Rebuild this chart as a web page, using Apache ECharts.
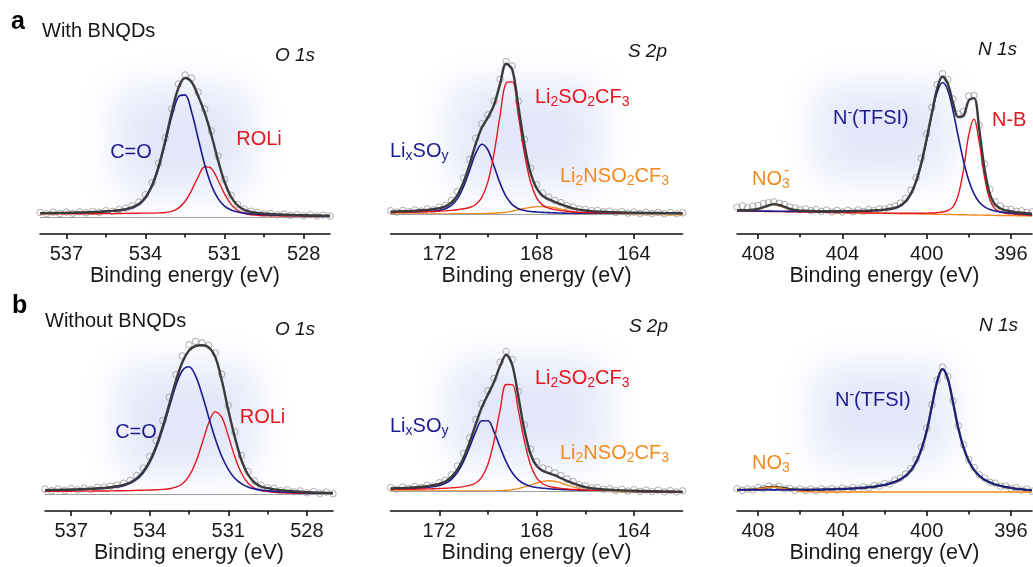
<!DOCTYPE html>
<html><head><meta charset="utf-8">
<script src="https://cdn.jsdelivr.net/npm/echarts@6/dist/echarts.min.js"></script>
<style>html,body{margin:0;padding:0;background:#fff}#c{width:1033px;height:567px}</style>
</head><body><div id="c"></div>
<script>
// ---------- binding-energy grids (eV) ----------
const O_E = [538,537.75,537.5,537.25,537,536.75,536.5,536.25,536,535.75,535.5,535.25,535,534.75,534.5,534.25,534,533.75,533.5,533.25,533,532.75,532.5,532.25,532,531.75,531.5,531.25,531,530.75,530.5,530.25,530,529.75,529.5,529.25,529,528.75,528.5,528.25,528,527.75,527.5,527.25,527];
const S_E = [174,173.75,173.5,173.25,173,172.75,172.5,172.25,172,171.75,171.5,171.25,171,170.75,170.5,170.25,170,169.75,169.5,169.25,169,168.75,168.5,168.25,168,167.75,167.5,167.25,167,166.75,166.5,166.25,166,165.75,165.5,165.25,165,164.75,164.5,164.25,164,163.75,163.5,163.25,163,162.75,162.5,162.25,162];
const N_E = [409,408.75,408.5,408.25,408,407.75,407.5,407.25,407,406.75,406.5,406.25,406,405.75,405.5,405.25,405,404.75,404.5,404.25,404,403.75,403.5,403.25,403,402.75,402.5,402.25,402,401.75,401.5,401.25,401,400.75,400.5,400.25,400,399.75,399.5,399.25,399,398.75,398.5,398.25,398,397.75,397.5,397.25,397,396.75,396.5,396.25,396,395.75,395.5,395.25,395];

// ---------- tick labels ----------
const O_ticks = [528,531,534,537], O_minor = [529.5,532.5,535.5];
const S_ticks = [164,168,172],     S_minor = [166,170];
const N_ticks = [396,400,404,408], N_minor = [398,402,406];

// ---------- (a) With BNQDs : O 1s ----------
const aO_raw  = [4.6,3.3,4.8,3.6,4.9,3.8,5.1,4.2,5.6,4.7,6.3,5.6,7.5,8.8,11.2,15.0,22.3,34.1,53.9,79.2,108,133,142,139,125,108,86,61,37.5,21.8,12.6,7.9,5.8,4.6,3.1,3.6,2.2,3.0,1.6,2.5,1.3,2.2,1.0,1.9,0.9];
const aO_env  = [3.9,3.9,4.0,4.1,4.2,4.4,4.5,4.7,5.0,5.3,5.7,6.1,6.8,7.9,9.7,13.1,19.6,31.6,50.6,76.1,105,129,139,135,121,104,82,57,35,20,11.5,7.2,5.1,4.1,3.5,3.0,2.6,2.3,2.1,1.9,1.8,1.6,1.5,1.4,1.3];
const aO_blue = [3.7,3.8,3.8,3.9,4.0,4.2,4.3,4.5,4.7,5.0,5.3,5.7,6.3,7.3,9.0,12.3,18.7,30.5,49.1,74.0,100.8,120.2,122.1,105.1,78.5,52.3,31.9,18.6,10.9,7.1,5.0,3.9,3.2,2.7,2.4,2.1,1.9,1.7,1.6,1.5,1.4,1.3,1.2,1.1,1.1];
const aO_red  = [3.2,3.2,3.2,3.2,3.2,3.2,3.2,3.3,3.3,3.3,3.4,3.4,3.5,3.6,3.7,3.8,3.9,3.9,4.1,4.5,5.7,8.9,15.5,26.6,40.2,50.2,48.6,37.0,23.1,12.6,6.5,3.5,2.3,1.8,1.5,1.3,1.1,1.0,0.9,0.9,0.8,0.8,0.7,0.7,0.7];

// ---------- (a) S 2p ----------
const aS_raw    = [3.3,1.9,3.6,2.4,4.1,3.0,5.0,4.1,6.8,8.9,13.6,22.4,36.1,54.6,75.8,90.3,99.1,112.8,134.7,152.5,148.0,112.9,74.6,45.8,29.3,20.9,16.8,13.5,11.4,8.3,7.1,5.0,4.6,3.4,3.6,2.4,2.9,1.5,2.4,0.9,2.0,0.6,1.8,0.4,1.6,0.3,1.4,0.2,1.1];
const aS_env    = [2.4,2.6,2.8,3.0,3.3,3.7,4.1,4.7,5.8,7.6,11.5,19.0,32.0,50.0,70.1,86.4,96.6,109.1,130.1,150.2,144.4,107.8,69.4,41.2,25.7,18.2,14.6,12.1,9.7,7.5,5.7,4.4,3.5,2.9,2.5,2.2,1.9,1.7,1.5,1.4,1.3,1.2,1.1,1.0,1.0,0.9,0.9,0.8,0.8];
const aS_blue   = [1.6,1.7,1.8,1.9,2.1,2.3,2.6,2.9,3.7,5.2,8.5,15.4,27.3,43.8,60.8,69.8,64.0,47.9,30.6,17.3,9.4,5.3,3.5,2.5,2.0,1.6,1.4,1.1,1.0,0.8,0.7,0.5,0.5,0.4,0.4,0.4,0.3,0.3,0.3,0.3,0.3,0.3,0.3,0.2,0.2,0.2,0.2,0.2,0.2];
const aS_red    = [1.6,1.7,1.8,1.9,2.0,2.2,2.3,2.5,2.8,3.1,3.6,4.2,5.2,6.5,9.5,16.6,32.4,60.6,98.5,131.1,132.1,98.3,60.4,32.0,16.2,8.9,5.9,4.4,3.4,2.7,2.2,1.8,1.5,1.3,1.2,1.0,0.9,0.8,0.7,0.6,0.6,0.5,0.5,0.4,0.4,0.4,0.4,0.3,0.3];
const aS_orange = [0.2,0.1,0.1,0.1,0.1,0.1,0.1,0.1,0.1,0.1,0.2,0.2,0.2,0.2,0.2,0.3,0.6,0.8,1.3,1.9,3.0,4.2,5.5,6.6,7.4,7.5,7.1,6.2,4.9,3.5,2.3,1.5,0.9,0.5,0.2,0,-0.3,-0.3,-0.4,-0.4,-0.5,-0.5,-0.6,-0.6,-0.6,-0.7,-0.7,-0.8,-0.8];

// ---------- (a) N 1s ----------
const aN_raw    = [5.8,7.1,5.2,6.9,7.6,9.4,10.3,11.1,9.8,8.5,5.9,5.1,3.2,4.1,2.4,3.5,1.6,2.9,1.1,2.6,0.9,2.8,1.2,3.1,1.5,3.4,2.3,4.0,3.8,5.6,7.0,9.8,14.5,22.6,35.3,54.8,79.1,105.6,128.4,139.2,133.5,114.0,99.1,101.6,116.9,117.4,87.6,49.1,23.5,11.2,6.8,3.9,3.5,1.7,2.2,0.6,1.1];
const aN_env    = [2.7,2.8,2.9,3.2,4.1,5.7,7.5,8.9,8.0,6.2,4.2,3.0,2.4,2.2,2.0,1.9,1.8,1.7,1.7,1.7,1.8,1.9,1.9,2.0,2.1,2.3,2.6,2.9,3.4,4.2,5.3,7.6,11.8,19.3,31.7,50.1,74.1,100.2,124.5,136.5,129.5,110.3,96.0,97.3,112.6,114.9,82.9,43.9,19.0,8.4,4.5,2.7,1.7,0.8,0.3,-0.3,-0.8];
const aN_blue   = [2.3,2.2,2.2,2.1,2.0,1.9,1.9,1.8,1.8,1.7,1.6,1.6,1.5,1.5,1.5,1.4,1.4,1.4,1.4,1.4,1.4,1.5,1.5,1.7,1.8,2.0,2.2,2.5,3.0,3.7,4.8,7.0,11.1,18.6,30.9,49.2,72.9,98.8,120.7,130.5,123.1,102.4,76.5,52.0,32.5,19.1,10.8,6.1,3.5,2.0,1.1,0.5,0,-0.5,-0.8,-1.2,-1.5];
const aN_red    = [2.1,2.0,1.9,1.8,1.7,1.6,1.5,1.5,1.4,1.3,1.2,1.1,1.0,0.9,0.9,0.8,0.7,0.6,0.5,0.4,0.4,0.3,0.2,0.1,0.1,0,-0.1,-0.1,-0.2,-0.2,-0.3,-0.3,-0.3,-0.3,-0.3,-0.3,-0.1,0,0.5,1.0,2.3,6.1,17.8,43.5,78.2,93.8,70.0,35.6,13.2,4.0,0.9,-0.3,-0.9,-1.4,-1.7,-2.0,-2.3];
const aN_orange = [2.4,2.4,2.5,2.8,3.6,5.3,7.1,8.4,7.5,5.6,3.6,2.3,1.7,1.4,1.2,1.0,0.9,0.7,0.6,0.5,0.4,0.3,0.2,0.1,0,-0.1,-0.2,-0.3,-0.4,-0.5,-0.6,-0.7,-0.8,-0.9,-0.9,-1.0,-1.1,-1.2,-1.3,-1.4,-1.5,-1.6,-1.7,-1.8,-1.9,-2.0,-2.1,-2.2,-2.3,-2.4,-2.5,-2.5,-2.6,-2.7,-2.8,-2.9,-3.0];

// ---------- (b) Without BNQDs : O 1s ----------
const bO_raw  = [4.9,3.4,5.0,3.6,5.3,4.1,5.9,4.6,6.6,6.9,7.9,9.0,10.8,13.6,18.4,26.0,37.5,53.2,73.4,96.8,119.5,138.1,149.3,152.6,151.2,148.5,141.0,119.8,88.6,62.0,38.5,22.6,13.1,8.9,6.2,5.6,3.4,4.1,2.2,3.1,1.2,2.4,0.6,1.9,0.3];
const bO_env  = [3.8,4.0,4.1,4.3,4.5,4.7,5.0,5.2,5.7,6.1,6.8,7.7,9.1,11.5,15.6,22.4,32.9,47.9,67.6,90.2,113.2,132.0,143.5,148.0,148.7,146.9,137.2,114.0,84.0,57.0,34.0,19.5,11.5,7.5,5.8,4.6,3.8,3.2,2.7,2.3,1.9,1.5,1.3,1.1,0.9];
const bO_blue = [3.6,3.7,3.8,4.0,4.2,4.3,4.6,4.8,5.2,5.6,6.2,7.0,8.3,10.6,14.5,21.1,31.4,46.1,65.3,87.1,108.4,123.5,127.3,118.1,99.4,77.1,55.6,37.8,24.7,15.8,10.3,7.0,5.1,3.9,3.2,2.6,2.2,1.8,1.6,1.3,1.1,0.8,0.7,0.5,0.4];
const bO_red  = [2.7,2.8,2.8,2.8,2.8,2.9,2.9,2.9,3.0,3.0,3.1,3.2,3.3,3.4,3.6,3.8,4.0,4.2,4.6,5.2,6.8,10.3,17.8,31.3,50.5,70.8,82.4,76.8,58.2,37.3,21.0,11.0,5.8,3.4,2.4,1.7,1.3,1.0,0.7,0.5,0.3,0.1,0,-0.1,-0.2];

// ---------- (b) S 2p ----------
const bS_raw    = [3.4,1.9,3.8,2.6,4.5,3.4,5.9,5.0,8.3,10.8,16.2,24.9,37.6,53.2,71.5,87.3,100.2,112.6,128.8,139.4,131.5,99.3,66.0,41.8,29.2,23.1,21.4,18.2,15.6,12.0,9.4,6.3,5.2,3.1,3.4,1.6,2.3,0.5,1.7,-0.1,1.2,-0.4,1.0,-0.6,0.8,-0.8,0.4,-0.9,0.2];
const bS_env    = [2.6,2.8,3.0,3.3,3.7,4.2,4.8,5.7,7.2,9.5,14.1,21.6,33.3,49.0,66.9,83.7,96.5,109.0,124.9,136.3,126.0,94.4,60.9,37.0,25.1,20.2,17.8,15.8,12.9,10.1,7.7,5.5,3.9,2.8,2.1,1.5,1.2,0.9,0.6,0.4,0.3,0.1,0,-0.2,-0.3,-0.4,-0.5,-0.6,-0.7];
const bS_blue   = [2.0,2.2,2.3,2.5,2.8,3.1,3.6,4.3,5.5,7.6,11.7,18.7,29.6,44.1,59.4,70.3,70.2,59.2,43.8,29.2,18.2,11.1,7.0,4.8,3.5,2.8,2.2,1.9,1.5,1.2,1.1,0.8,0.6,0.4,0.3,0.1,0,-0.1,-0.3,-0.4,-0.5,-0.6,-0.6,-0.7,-0.8,-0.9,-0.9,-1.0,-1.1];
const bS_red    = [1.5,1.6,1.7,1.7,1.8,2.0,2.1,2.2,2.5,2.7,3.1,3.6,4.4,5.6,8.0,13.9,26.7,49.9,81.0,106.5,106.4,80.7,49.6,26.2,13.2,7.3,4.7,3.5,2.6,2.0,1.6,1.3,0.9,0.7,0.6,0.3,0.1,0,-0.2,-0.3,-0.4,-0.5,-0.6,-0.7,-0.8,-0.9,-0.9,-1.0,-1.1];
const bS_orange = [0.1,0,0,0,0,0,0,0,0,0,0,0,0,0,0,0,0,0.1,0.3,0.7,1.4,2.4,4.1,5.9,8.0,9.6,10.3,9.8,8.0,6.0,4.1,2.4,1.2,0.4,-0.1,-0.4,-0.6,-0.7,-0.7,-0.8,-0.8,-0.9,-0.9,-1.0,-1.0,-1.1,-1.1,-1.2,-1.2];

// ---------- (b) N 1s ----------
const bN_raw    = [3.3,1.6,3.0,2.1,4.4,3.6,5.9,4.5,5.7,3.1,3.8,1.7,3.1,1.5,2.9,1.4,3.2,1.8,3.4,2.0,3.9,2.6,4.3,3.1,5.2,4.0,6.4,5.8,8.5,8.0,11.9,13.8,17.9,23.5,32.6,44.8,63.9,87.4,112.1,124.8,115.6,91.2,66.3,47.5,32.4,24.3,17.2,14.0,9.8,8.9,5.7,6.1,3.4,4.2,1.9,2.8,0.9];
const bN_env    = [2.1,2.1,2.2,2.5,3.2,4.1,4.8,5.1,4.6,3.7,2.9,2.5,2.3,2.2,2.3,2.4,2.4,2.6,2.6,2.9,3.0,3.3,3.5,3.9,4.2,4.8,5.3,6.2,7.2,8.5,10.2,12.6,16.2,21.6,29.9,42.5,60.7,85.9,110.5,123.0,113.5,89.8,63.9,44.6,31.0,22.1,16.1,12.3,9.6,7.6,6.2,5.0,4.1,3.3,2.7,2.1,1.6];
const bN_blue   = [2.1,2.1,2.1,2.1,2.1,2.1,2.1,2.1,2.1,2.1,2.1,2.2,2.2,2.2,2.3,2.4,2.4,2.6,2.6,2.9,3.0,3.3,3.5,3.9,4.2,4.8,5.3,6.2,7.2,8.5,10.2,12.6,16.2,21.6,29.9,42.5,60.7,85.9,110.5,123.0,113.5,89.8,63.9,44.6,31.0,22.1,16.1,12.3,9.6,7.6,6.2,5.0,4.1,3.3,2.7,2.1,1.6];
const bN_orange = [2.2,2.1,2.1,2.3,3.0,3.9,4.6,4.8,4.3,3.3,2.2,1.4,0.8,0.4,0.2,0.1,0,0,0,0,0,0,0,0,0,0,0,0,0,0,0,0,0,0,0,0,0,0,0,0,0,0,0,0,0,0,0,0,0,0,0,0,0,0,0,0,0];

// ---------- styling ----------
const FF = '"Liberation Sans", Arial, Helvetica, sans-serif';
const BLUE = '#1c1c8e', RED = '#e6161e', ORANGE = '#f28a1e', ENVC = '#3b3b3b', RAWC = '#8e8e8e';
const AXIS_NAME = 'Binding energy (eV)';

const panels = [
  {E:O_E, raw:aO_raw, env:aO_env, comps:[[aO_red,RED],[aO_blue,BLUE]], left:40,  width:290, axisY:234, yMin:-17, min:527, max:538, ticks:O_ticks, minor:O_minor, base:true, envOnTop:true},
  {E:S_E, raw:aS_raw, env:aS_env, comps:[[aS_orange,ORANGE],[aS_blue,BLUE],[aS_red,RED]], left:390.6, width:292, axisY:234, yMin:-20, min:162, max:174, ticks:S_ticks, minor:S_minor, base:true, envOnTop:true},
  {E:N_E, raw:aN_raw, env:aN_env, comps:[[aN_orange,ORANGE],[aN_red,RED],[aN_blue,BLUE]], left:737, width:295, axisY:234, yMin:-21, min:395, max:409, ticks:N_ticks, minor:N_minor, base:false, envOnTop:true},
  {E:O_E, raw:bO_raw, env:bO_env, comps:[[bO_red,RED],[bO_blue,BLUE]], left:45,  width:288, axisY:511, yMin:-17, min:527, max:538, ticks:O_ticks, minor:O_minor, base:true, envOnTop:true},
  {E:S_E, raw:bS_raw, env:bS_env, comps:[[bS_orange,ORANGE],[bS_blue,BLUE],[bS_red,RED]], left:390.6, width:292, axisY:511, yMin:-20, min:162, max:174, ticks:S_ticks, minor:S_minor, base:true, envOnTop:true},
  {E:N_E, raw:bN_raw, env:bN_env, comps:[[bN_orange,ORANGE],[bN_blue,BLUE]], left:737, width:295, axisY:511, yMin:-19, min:395, max:409, ticks:N_ticks, minor:N_minor, base:false, envOnTop:false}
];
const Y_MAX = 160;

const grid = [], xAxis = [], yAxis = [], series = [];
const pairs = (E, v) => v.map((y, i) => [E[i], y]);

panels.forEach((p, i) => {
  const h = Y_MAX - p.yMin;
  grid.push({left:p.left, width:p.width, top:p.axisY - h, height:h, containLabel:false});
  const axLine = {color:'#111', width:1.6};
  xAxis.push({
    gridIndex:i, type:'value', inverse:true, min:p.min, max:p.max, position:'bottom',
    axisLine:{show:true, onZero:false, lineStyle:axLine},
    axisTick:{show:true, customValues:p.ticks, length:5, lineStyle:axLine},
    axisLabel:{show:true, customValues:p.ticks, fontSize:20, color:'#1a1a1a', margin:10, fontFamily:FF},
    splitLine:{show:false},
    name:AXIS_NAME, nameLocation:'middle', nameGap:31,
    nameTextStyle:{fontSize:21.5, color:'#1a1a1a', fontFamily:FF}
  });
  xAxis.push({
    gridIndex:i, type:'value', inverse:true, min:p.min, max:p.max, position:'bottom',
    axisLine:{show:false, onZero:false}, axisTick:{show:true, customValues:p.minor, length:3.5, lineStyle:axLine},
    axisLabel:{show:false}, splitLine:{show:false}
  });
  yAxis.push({gridIndex:i, type:'value', min:p.yMin, max:Y_MAX, show:false});

  const xi = 2 * i;
  series.push({
    type:'scatter', xAxisIndex:xi, yAxisIndex:i, data:pairs(p.E, p.raw), z:2,
    symbol:'circle', symbolSize:6.5,
    itemStyle:{color:'rgba(255,255,255,0)', borderColor:RAWC, borderWidth:0.9}
  });
  const envSeries = {
    type:'line', xAxisIndex:xi, yAxisIndex:i, data:pairs(p.E, p.env), z: p.envOnTop ? 5 : 3,
    smooth:0.35, showSymbol:false, lineStyle:{color:ENVC, width:2.4}
  };
  if (p.base) {
    envSeries.markLine = {silent:true, symbol:['none','none'], label:{show:false},
      lineStyle:{color:'#a0a0a0', width:1, type:'solid'}, data:[{yAxis:0}]};
  }
  series.push(envSeries);
  p.comps.forEach(([arr, col]) => {
    series.push({type:'line', xAxisIndex:xi, yAxisIndex:i, data:pairs(p.E, arr), z:4,
      smooth:0.35, showSymbol:false, lineStyle:{color:col, width:col === BLUE ? 1.6 : 1.4}});
  });
});

// ---------- annotations ----------
const rich = (c) => ({
  m:{fontSize:20, lineHeight:24, fill:c, fontFamily:FF},
  s:{fontSize:14, lineHeight:12, verticalAlign:'bottom', fill:c, fontFamily:FF},
  p:{fontSize:14, lineHeight:13, verticalAlign:'top', fill:c, fontFamily:FF}
});
function T(x, y, text, o) {
  o = o || {};
  const align = o.align || 'left';
  const st = {x, y, text, fontFamily:FF, fontSize:o.size || 20, fontWeight:o.weight || 'normal',
    fontStyle:o.italic ? 'italic' : 'normal', fill:o.color || '#161616',
    align, verticalAlign:'middle', textAlign:align, textVerticalAlign:'middle'};
  if (o.rich) st.rich = o.rich;
  return {type:'text', z:100, style:st};
}
// soft lavender glow: the rect itself is drawn off-canvas, only its blurred shadow shows
const OFF = 3000;
function glow(x, y, w, h) {
  return {type:'rect', z:0, silent:true, shape:{x:x - OFF, y, width:w, height:h},
    style:{fill:'rgba(228,232,249,1)', shadowBlur:40, shadowOffsetX:OFF, shadowOffsetY:0,
      shadowColor:'rgba(227,231,249,1)'}};
}
const graphics = [
  glow(116, 88, 134, 104), glow(450, 84, 150, 102), glow(816, 86, 134, 92),
  glow(118, 366, 138, 106), glow(450, 362, 156, 100), glow(814, 366, 136, 96),
  // row a
  T(11, 22.5, 'a', {size:25, weight:'bold', color:'#000'}),
  T(42, 31, 'With BNQDs'),
  T(315, 56, 'O 1s', {align:'right', italic:true, size:19}),
  T(131, 152.5, 'C=O', {align:'center', color:BLUE}),
  T(259, 139.5, 'ROLi', {align:'center', color:RED}),
  T(667, 51.5, 'S 2p', {align:'right', italic:true, size:19}),
  T(535, 97.5, '{m|Li}{s|2}{m|SO}{s|2}{m|CF}{s|3}', {rich:rich(RED), color:RED}),
  T(390, 151.5, '{m|Li}{s|x}{m|SO}{s|y}', {rich:rich(BLUE), color:BLUE}),
  T(560, 176, '{m|Li}{s|2}{m|NSO}{s|2}{m|CF}{s|3}', {rich:rich(ORANGE), color:ORANGE}),
  T(1017, 49.5, 'N 1s', {align:'right', italic:true, size:19}),
  T(833, 118.5, '{m|N}{p|-}{m|(TFSI)}', {rich:rich(BLUE), color:BLUE}),
  T(992, 120, 'N-B', {color:RED}),
  T(752, 179.5, '{m|NO}{s|3}', {rich:rich(ORANGE), color:ORANGE}),
  T(786.5, 170.5, '-', {align:'center', size:15, color:ORANGE}),
  // row b
  T(12, 306.5, 'b', {size:25, weight:'bold', color:'#000'}),
  T(45, 321.5, 'Without BNQDs'),
  T(315, 330, 'O 1s', {align:'right', italic:true, size:19}),
  T(136, 432, 'C=O', {align:'center', color:BLUE}),
  T(262.5, 417.5, 'ROLi', {align:'center', color:RED}),
  T(668, 326.5, 'S 2p', {align:'right', italic:true, size:19}),
  T(535, 378.5, '{m|Li}{s|2}{m|SO}{s|2}{m|CF}{s|3}', {rich:rich(RED), color:RED}),
  T(390, 426.5, '{m|Li}{s|x}{m|SO}{s|y}', {rich:rich(BLUE), color:BLUE}),
  T(560, 453.5, '{m|Li}{s|2}{m|NSO}{s|2}{m|CF}{s|3}', {rich:rich(ORANGE), color:ORANGE}),
  T(1018, 325.5, 'N 1s', {align:'right', italic:true, size:19}),
  T(835, 400, '{m|N}{p|-}{m|(TFSI)}', {rich:rich(BLUE), color:BLUE}),
  T(752, 463, '{m|NO}{s|3}', {rich:rich(ORANGE), color:ORANGE}),
  T(787.5, 454, '-', {align:'center', size:15, color:ORANGE})
];

const chart = echarts.init(document.getElementById('c'), null, {renderer:'canvas'});
chart.setOption({
  animation:false,
  backgroundColor:'#ffffff',
  textStyle:{fontFamily:FF},
  grid, xAxis, yAxis, series,
  graphic:{elements:graphics}
});
</script>
</body></html>
